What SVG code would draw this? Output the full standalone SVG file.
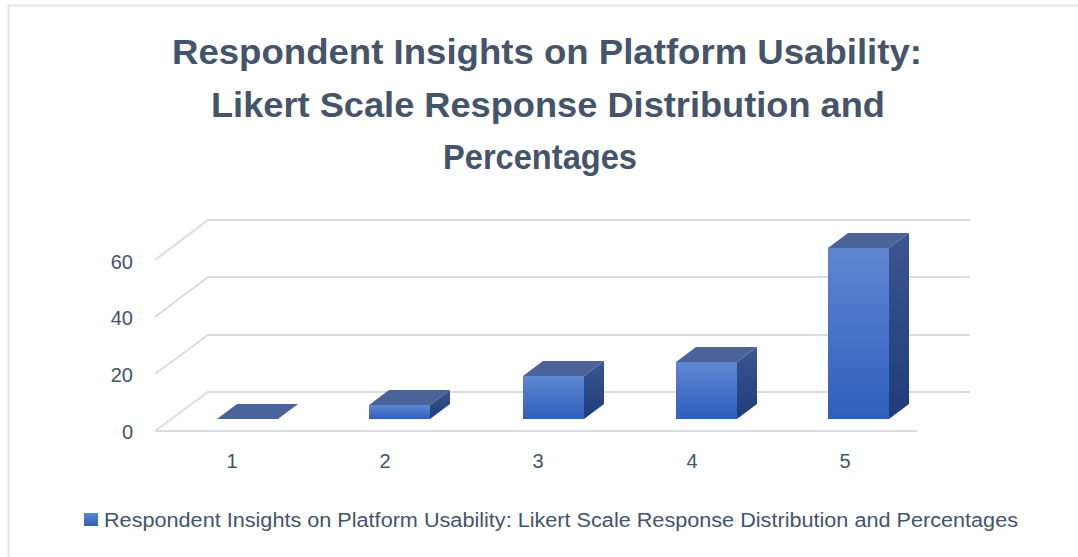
<svg xmlns="http://www.w3.org/2000/svg" width="1078" height="557" viewBox="0 0 1078 557">
<defs>
<linearGradient id="front" x1="0" y1="0" x2="0" y2="1"><stop offset="0" stop-color="#5E86D2"/><stop offset="1" stop-color="#2F5FBC"/></linearGradient>
<linearGradient id="side" x1="0" y1="0" x2="0" y2="1"><stop offset="0" stop-color="#3B5690"/><stop offset="1" stop-color="#1F3B7A"/></linearGradient>
<style>
.grid{stroke:#D9DCE3;stroke-width:2;fill:none}
.title{font-family:"Liberation Sans",Arial,sans-serif;font-weight:bold;font-size:35px;fill:#44546A;text-anchor:middle}
.ax{font-family:"Liberation Sans",Arial,sans-serif;font-size:20px;fill:#44546A}
.top{fill:#4A6398}
.fr{fill:url(#front)}
.sd{fill:url(#side)}
</style>
</defs>
<rect x="0" y="0" width="1078" height="557" fill="#FFFFFF"/>
<path d="M8.5 557 V5.5 H1078" stroke="#E1E4EA" stroke-width="2" fill="none"/>
<g id="title">
<text class="title" x="547" y="64" textLength="750" lengthAdjust="spacingAndGlyphs">Respondent Insights on Platform Usability:</text>
<text class="title" x="548" y="117" textLength="674" lengthAdjust="spacingAndGlyphs">Likert Scale Response Distribution and</text>
<text class="title" x="540" y="169" textLength="194" lengthAdjust="spacingAndGlyphs">Percentages</text>
</g>
<g id="gridlines">
<path class="grid" d="M155 260 L208 220 H970 M155 317 L208 277 H970 M155 374 L208 335 H970 M155 431 L208 392 H970 M155 431 H917"/>
</g>
<g id="axis-labels">
<text class="ax" x="133" y="269" text-anchor="end">60</text>
<text class="ax" x="133" y="325" text-anchor="end">40</text>
<text class="ax" x="133" y="382" text-anchor="end">20</text>
<text class="ax" x="133" y="439" text-anchor="end">0</text>
<text class="ax" x="232" y="468" text-anchor="middle">1</text>
<text class="ax" x="385" y="468" text-anchor="middle">2</text>
<text class="ax" x="538" y="468" text-anchor="middle">3</text>
<text class="ax" x="692" y="468" text-anchor="middle">4</text>
<text class="ax" x="845" y="468" text-anchor="middle">5</text>
</g>
<g id="bar1">
<polygon class="top" points="217,419 278,419 298,404 237,404"/>
</g>
<g id="bar2">
<polygon class="sd" points="430,405 450,390 450,404 430,419"/>
<polygon class="top" points="369,405 430,405 450,390 389,390"/>
<rect class="fr" x="369" y="405" width="61" height="14"/>
</g>
<g id="bar3">
<polygon class="sd" points="584,376 604,361 604,404 584,419"/>
<polygon class="top" points="523,376 584,376 604,361 543,361"/>
<rect class="fr" x="523" y="376" width="61" height="43"/>
</g>
<g id="bar4">
<polygon class="sd" points="737,362 757,347 757,404 737,419"/>
<polygon class="top" points="676,362 737,362 757,347 696,347"/>
<rect class="fr" x="676" y="362" width="61" height="57"/>
</g>
<g id="bar5">
<polygon class="sd" points="889,248 909,233 909,404 889,419"/>
<polygon class="top" points="828,248 889,248 909,233 848,233"/>
<rect class="fr" x="828" y="248" width="61" height="171"/>
</g>
<g id="legend">
<rect x="84" y="513" width="14" height="13" fill="url(#front)"/>
<text class="ax" x="104" y="527" textLength="914" lengthAdjust="spacingAndGlyphs">Respondent Insights on Platform Usability: Likert Scale Response Distribution and Percentages</text>
</g>
</svg>
